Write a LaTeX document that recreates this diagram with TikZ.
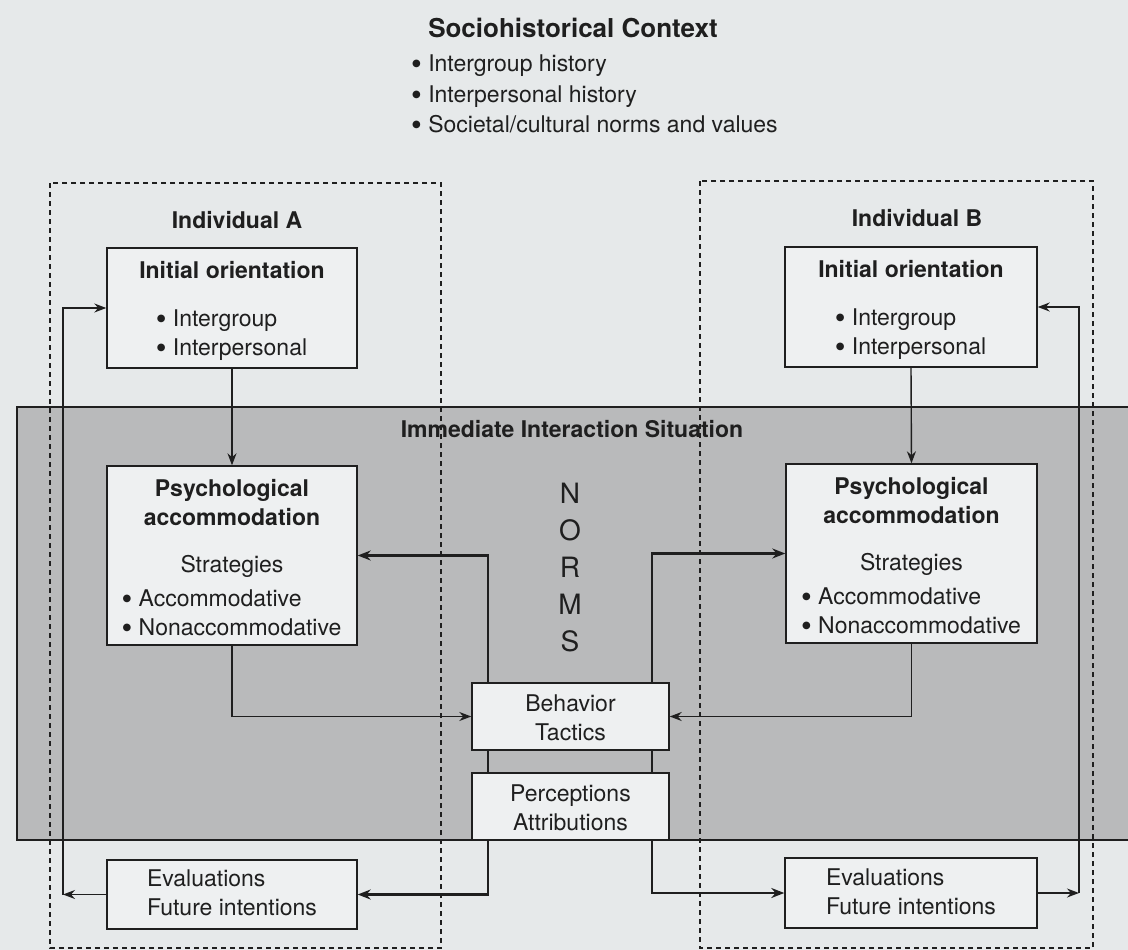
\documentclass[tikz,border=0pt]{standalone}
\usepackage{fontspec}
\setmainfont{TeX Gyre Heros}
\newfontfamily\symfont{DejaVu Sans}
\usetikzlibrary{arrows.meta,calc}
\definecolor{pagebg}{HTML}{E6E9EA}
\definecolor{bandfill}{HTML}{B9BABB}
\definecolor{boxfill}{HTML}{EEF0F1}
\definecolor{ink}{HTML}{1F1F1F}
\newcommand\bul{\raisebox{5pt}{\symfont\fontsize{10}{10}\selectfont ●}\hspace{0.32em}}
\newcommand\padtop[2]{\raisebox{0pt}[\dimexpr\height+#1\relax]{#2}}
\pgfdeclarelayer{bglayer}
\pgfdeclarelayer{midlayer}
\pgfsetlayers{bglayer,midlayer,main}
\begin{document}
\begin{tikzpicture}[x=1pt,y=-1pt,
  box/.style={draw=ink, line width=1.4pt, fill=boxfill, inner sep=0pt, align=center,
    font=\fontsize{23}{29}\selectfont, text=ink},
  lab/.style={text=ink, inner sep=0pt, font=\bfseries\fontsize{23}{29}\selectfont},
  conn/.style={draw=ink, line width=1.4pt, -{Stealth[length=12pt,width=9pt]}},
  boldconn/.style={draw=ink, line width=2.6pt, {Stealth[length=13pt,width=10pt]}-{Stealth[length=13pt,width=10pt]}},
  dashbox/.style={draw=ink, line width=1.2pt, dash pattern=on 5pt off 4pt}]
\useasboundingbox (0,0) rectangle (1128,950);

% ---------- nodes ----------
\node[text=ink, inner sep=0pt, font=\bfseries\fontsize{26}{30}\selectfont] (title) at (573,28) {Sociohistorical Context};
\node[text=ink, inner sep=0pt, anchor=west, align=left, font=\fontsize{23}{30.5}\selectfont] (ctx) at (412,94)
  {\bul Intergroup history\\ \bul Interpersonal history\\ \bul Societal/cultural norms and values};

\node[lab] (indA) at (237,220) {Individual A};
\node[lab] (indB) at (917,218) {Individual B};

\node[box, minimum width=250pt, minimum height=120pt] (initA) at (232,308)
  {\padtop{10pt}{\textbf{Initial orientation}}\\[19pt]\begin{tabular}[t]{@{}l@{}}\bul Intergroup\\ \bul Interpersonal\end{tabular}};
\node[box, minimum width=252pt, minimum height=120pt] (initB) at (911,307)
  {\padtop{10pt}{\textbf{Initial orientation}}\\[19pt]\begin{tabular}[t]{@{}l@{}}\bul Intergroup\\ \bul Interpersonal\end{tabular}};

\node[lab] (situation) at (572,429) {Immediate Interaction Situation};
\node[text=ink, inner sep=0pt, align=center, font=\fontsize{28}{37}\selectfont] (norms) at (570,568) {N\\O\\R\\M\\S};

\node[box, minimum width=250pt, minimum height=179pt] (psyA) at (232,555.5)
  {\padtop{12pt}{\textbf{Psychological}}\\\textbf{accommodation}\\[18pt]Strategies\\[5pt]\begin{tabular}[t]{@{}l@{}}\bul Accommodative\\ \bul Nonaccommodative\end{tabular}};
\node[box, minimum width=251pt, minimum height=179pt] (psyB) at (911.5,553.5)
  {\padtop{12pt}{\textbf{Psychological}}\\\textbf{accommodation}\\[18pt]Strategies\\[5pt]\begin{tabular}[t]{@{}l@{}}\bul Accommodative\\ \bul Nonaccommodative\end{tabular}};

\node[box, minimum width=197pt, minimum height=67pt] (beh) at (570.5,716.5) {\padtop{2pt}{Behavior}\\Tactics};
\node[box, minimum width=197pt, minimum height=67pt] (perc) at (570.5,806.5) {\padtop{3pt}{Perceptions}\\Attributions};

\node[box, minimum width=250pt, minimum height=69pt] (evalA) at (232,894.5)
  {\begin{tabular}{@{}l@{}}\padtop{5pt}{Evaluations}\\Future intentions\end{tabular}};
\node[box, minimum width=252pt, minimum height=70pt] (evalB) at (911,893)
  {\begin{tabular}{@{}l@{}}\padtop{5pt}{Evaluations}\\Future intentions\end{tabular}};

\coordinate (fbA1) at (63,894.5);
\coordinate (fbA2) at (63,308);
\coordinate (fbB1) at (1079,893);
\coordinate (fbB2) at (1079,307);
\coordinate (colL) at (488,720);
\coordinate (colR) at (652,720);

% ---------- background ----------
\begin{pgfonlayer}{bglayer}
  \fill[pagebg] (0,0) rectangle (1128,950);
  \fill[bandfill] (17,407) rectangle (1128,840);
  \draw[ink, line width=1.4pt] (1128,407) -- (17,407) -- (17,840) -- (1128,840);
  \draw[dashbox] (50,183) rectangle (441,948);
  \draw[dashbox] (700,181) rectangle (1093,948);
\end{pgfonlayer}

% ---------- connectors ----------
\begin{pgfonlayer}{midlayer}
  \draw[conn] (initA.south) -- (psyA.north);
  \draw[conn] (initB.south) -- (psyB.north);
  \draw[conn] (psyA.south) |- (beh.west);
  \draw[conn] (psyB.south) |- (beh.east);
  \draw[boldconn] (psyA.east) -| (colL) |- (evalA.east);
  \draw[boldconn] (psyB.west) -| (colR) |- (evalB.west);
  \draw[conn] (evalA.west) -- (fbA1);
  \draw[conn] (fbA1) -- (fbA2) -- (initA.west);
  \draw[conn] (evalB.east) -- (fbB1);
  \draw[conn] (fbB1) -- (fbB2) -- (initB.east);
\end{pgfonlayer}
\end{tikzpicture}
\end{document}
